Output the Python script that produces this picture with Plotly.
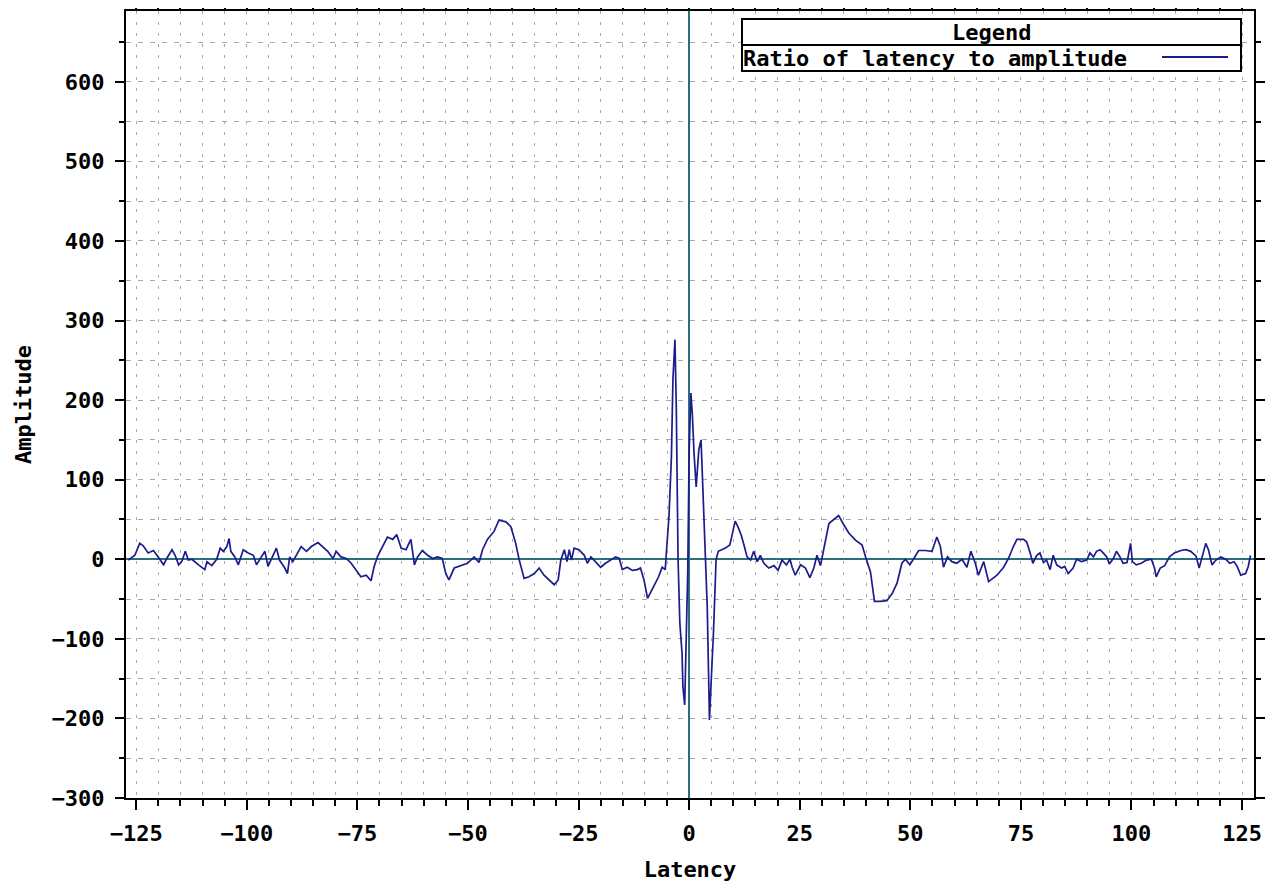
import plotly.graph_objects as go

latency = [
    -126.8, -125.3, -124.2, -123.4, -122.3, -121.1, -120.3, -118.8, -118.1, -116.9,
    -116.2, -115.4, -114.7, -113.9, -113.2, -112.4, -110.9, -109.5, -109.0, -107.9,
    -106.8, -106.0, -105.3, -104.5, -104.0, -103.6, -102.7, -101.9, -100.8, -99.7,
    -98.5, -97.8, -96.7, -95.9, -95.2, -94.1, -93.3, -92.6, -91.4, -90.8,
    -90.3, -89.6, -88.8, -87.7, -86.5, -85.4, -83.9, -82.8, -81.7, -80.5,
    -79.8, -78.7, -77.5, -76.4, -75.3, -74.2, -73.0, -71.9, -71.2, -70.4,
    -69.3, -68.2, -67.0, -66.1, -65.1, -64.0, -62.9, -62.1, -61.4, -60.3,
    -59.1, -58.0, -56.9, -55.8, -55.0, -54.3, -53.1, -51.6, -50.1, -48.6,
    -47.5, -46.7, -45.6, -44.1, -43.0, -41.4, -40.3, -39.2, -38.4, -37.3,
    -36.2, -35.0, -33.9, -32.8, -31.6, -30.5, -29.6, -29.0, -28.2, -27.6,
    -27.1, -26.6, -26.0, -24.9, -23.7, -23.0, -22.2, -21.1, -20.0, -18.9,
    -17.7, -16.6, -15.8, -15.1, -14.0, -12.8, -11.7, -11.0, -10.2, -9.4,
    -8.0, -6.9, -6.1, -5.4, -5.1, -4.55, -4.0, -3.66, -3.2, -2.9,
    -2.5, -2.1, -1.6, -1.4, -1.0, -0.7, -0.3, 0.0, 0.4, 0.75,
    1.1, 1.6, 2.2, 2.7, 2.9, 3.7, 4.1, 4.4, 4.6, 5.0,
    5.5, 6.1, 6.6, 8.2, 9.2, 9.7, 10.4, 11.1, 11.8, 12.4,
    13.1, 13.9, 14.6, 15.4, 16.1, 16.9, 18.0, 19.2, 20.1, 21.0,
    22.0, 22.8, 23.3, 24.0, 25.2, 26.3, 27.3, 28.2, 28.9, 29.7,
    30.4, 31.6, 32.7, 33.8, 35.0, 36.1, 37.6, 39.1, 39.9, 41.0,
    41.9, 43.2, 44.7, 45.9, 47.0, 48.1, 48.9, 49.9, 50.8, 51.9,
    53.4, 54.9, 56.0, 56.8, 57.5, 58.4, 59.4, 60.5, 61.7, 62.8,
    63.7, 64.7, 65.4, 66.6, 67.7, 68.6, 69.6, 71.1, 72.2, 73.3,
    74.1, 75.6, 76.3, 77.1, 77.7, 78.6, 79.3, 80.1, 80.8, 81.6,
    82.3, 83.1, 84.2, 84.9, 85.7, 86.8, 87.6, 88.7, 89.9, 90.6,
    91.4, 92.1, 92.9, 93.6, 94.4, 95.0, 95.9, 96.6, 97.4, 98.1,
    99.0, 99.8, 100.2, 101.1, 102.2, 103.4, 104.5, 105.2, 105.6, 106.5,
    107.5, 108.6, 109.7, 111.2, 112.3, 113.4, 114.6, 115.3, 116.1, 116.8,
    117.4, 118.2, 119.1, 120.2, 121.3, 122.2, 123.2, 123.9, 124.7, 125.8,
    126.4, 126.9,
]

amplitude = [
    -1, 5, 20, 17, 8, 11, 5, -7, 1, 12,
    5, -7, -3, 10, -1, 0, -7, -13, -3, -8,
    0, 14, 10, 16, 26, 10, 3, -7, 12, 8,
    5, -7, 3, 10, -9, 5, 14, -1, -11, -18,
    3, -3, 5, 16, 10, 16, 21, 16, 10, 1,
    10, 3, 1, -5, -13, -22, -20, -27, -9, 4,
    16, 28, 25, 31, 14, 12, 25, -7, 3, 11,
    5, 1, 3, 1, -18, -26, -11, -8, -5, 3,
    -4, 12, 25, 35, 49, 47, 41, 20, -1, -24,
    -22, -18, -11, -20, -26, -32, -26, -1, 12, -3,
    12, -1, 14, 12, 5, -5, 3, -3, -10, -5,
    -1, 3, 1, -13, -10, -14, -13, -11, -26, -49,
    -34, -22, -10, -13, 12, 54, 129, 226, 276, 192,
    0, -80, -118, -160, -183, -124, -13, 134, 209, 180,
    134, 91, 138, 150, 116, 0, -60, -144, -202, -152,
    -93, 0, 10, 14, 18, 30, 48, 40, 30, 18,
    3, -1, 10, -3, 5, -5, -11, -8, -14, -1,
    -7, 0, -10, -20, -7, -11, -23, -11, 5, -8,
    12, 45, 50, 55, 43, 33, 24, 18, 3, -16,
    -53, -53, -52, -43, -30, -5, 0, -7, 1, 11,
    11, 10, 28, 16, -10, 3, -3, -5, 0, -10,
    10, -5, -20, -3, -28, -24, -20, -10, 1, 16,
    25, 25, 22, 8, -5, 5, 8, -4, -1, -13,
    5, -7, -11, -9, -18, -11, 0, -3, -1, 8,
    3, 10, 12, 8, 3, -6, 1, 10, 3, -5,
    -4, 20, -3, -7, -5, -1, 0, -11, -22, -11,
    -8, 3, 8, 11, 12, 10, 4, -11, 5, 20,
    12, -7, -1, 3, 0, -5, -3, -9, -20, -18,
    -9, 5,
]

series_name = "Ratio of latency to amplitude"
legend_title = "Legend"
x_title = "Latency"
y_title = "Amplitude"

FONT = "DejaVu Sans Mono"
TXT = dict(family=FONT, size=22, color="black", weight="bold")

fig = go.Figure()
fig.add_trace(go.Scatter(
    x=latency, y=amplitude, mode="lines", name=series_name,
    line=dict(color="#1c1c8c", width=1.7), showlegend=False,
))

grid_col = "#a8a8a8"
fig.update_layout(
    width=1272, height=882,
    paper_bgcolor="white", plot_bgcolor="white",
    margin=dict(l=118, r=26, t=3, b=92, autoexpand=False),
    font=TXT,
    xaxis=dict(
        range=[-127.3, 127.7], tickmode="linear", tick0=0, dtick=25,
        ticks="outside", ticklen=10, tickwidth=2, tickcolor="black",
        showline=True, linecolor="black", linewidth=2, mirror="allticks",
        showgrid=True, gridcolor=grid_col, gridwidth=1, griddash="3px,8px",
        zeroline=True, zerolinecolor="#2d6e7e", zerolinewidth=1.5,
        minor=dict(dtick=5, ticks="outside", ticklen=6, tickwidth=2, tickcolor="black",
                   showgrid=True, gridcolor=grid_col, gridwidth=1, griddash="3px,8px"),
        tickfont=TXT, ticklabelstandoff=5, automargin=False,
        title=dict(text=x_title, font=TXT, standoff=16),
    ),
    yaxis=dict(
        range=[-300, 689], tickmode="linear", tick0=0, dtick=100,
        ticks="outside", ticklen=9, tickwidth=2, tickcolor="black",
        showline=True, linecolor="black", linewidth=2, mirror="allticks",
        showgrid=True, gridcolor=grid_col, gridwidth=1, griddash="5px,7px",
        zeroline=True, zerolinecolor="#2d6e7e", zerolinewidth=1.5,
        minor=dict(dtick=50, ticks="outside", ticklen=5, tickwidth=2, tickcolor="black",
                   showgrid=True, gridcolor=grid_col, gridwidth=1, griddash="5px,7px"),
        tickfont=TXT, ticklabelstandoff=6, automargin=False,
        title=dict(text=y_title, font=TXT, standoff=14),
    ),
)

# manual legend box (paper coords derived from plot area 126..1254 x, 11..798 y in the page)
def px_x(p):
    return (p - 126) / 1128.0

def px_y(p):
    return (798 - p) / 787.0

bx0, bx1, by0, by1, bmid = px_x(742), px_x(1241), px_y(71), px_y(19), px_y(45)
fig.add_shape(type="rect", xref="paper", yref="paper", x0=bx0, x1=bx1, y0=by0, y1=by1,
              line=dict(color="black", width=2), fillcolor="white", layer="above")
fig.add_shape(type="line", xref="paper", yref="paper", x0=bx0, x1=bx1, y0=bmid, y1=bmid,
              line=dict(color="black", width=2), layer="above")
fig.add_shape(type="line", xref="paper", yref="paper", x0=px_x(1162), x1=px_x(1228),
              y0=px_y(57), y1=px_y(57), line=dict(color="#1c1c8c", width=2), layer="above")
fig.add_annotation(xref="paper", yref="paper", x=(bx0 + bx1) / 2, y=px_y(32),
                   text=legend_title, showarrow=False, font=TXT, xanchor="center", yanchor="middle")
fig.add_annotation(xref="paper", yref="paper", x=px_x(741), y=px_y(58),
                   text=series_name, showarrow=False, font=TXT, xanchor="left", yanchor="middle")

fig.write_html("out.html")
